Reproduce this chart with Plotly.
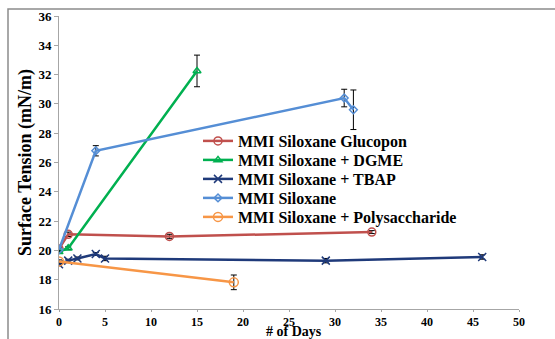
import plotly.graph_objects as go

# ---- data ----
glucopon_days = [0, 1, 12, 34]
glucopon_vals = [20.1, 21.1, 20.95, 21.25]
glucopon_err = [0.1, 0.15, 0.15, 0.1]

dgme_days = [0, 1, 15]
dgme_vals = [19.9, 20.15, 32.25]
dgme_err = [0.1, 0.1, 1.08]

tbap_days = [0, 1, 2, 4, 5, 29, 46]
tbap_vals = [19.05, 19.3, 19.45, 19.75, 19.45, 19.3, 19.55]
tbap_err = [0.1, 0.1, 0.1, 0.1, 0.15, 0.15, 0.15]

siloxane_days = [0, 4, 31, 32]
siloxane_vals = [20.05, 26.8, 30.4, 29.6]
siloxane_err = [0.1, 0.35, 0.6, 1.35]

poly_days = [0, 19]
poly_vals = [19.25, 17.82]
poly_err = [0.1, 0.5]

series = [
    ("MMI Siloxane Glucopon", glucopon_days, glucopon_vals, glucopon_err, "#C0504D", "circle-open", 8),
    ("MMI Siloxane + DGME", dgme_days, dgme_vals, dgme_err, "#00B050", "triangle-up-open", 7),
    ("MMI Siloxane + TBAP", tbap_days, tbap_vals, tbap_err, "#1F3A7A", "x-thin-open", 8),
    ("MMI Siloxane", siloxane_days, siloxane_vals, siloxane_err, "#558ED5", "diamond-open", 6),
    ("MMI Siloxane + Polysaccharide", poly_days, poly_vals, poly_err, "#F79646", "circle-open", 9),
]

W, H = 555, 339
L, R, T, B = 59, 36, 16, 30
pw, ph = W - L - R, H - T - B

def px_to_paper_x(px):
    return (px - L) / pw

def px_to_paper_y(py):
    return (H - B - py) / ph

fig = go.Figure()
legend_rows = [141, 160, 179, 198, 217]
font_family = "Liberation Serif, Times New Roman, serif"

layout_legends = {}
for i, (name, xs, ys, es, color, sym, msize) in enumerate(series):
    lg = "legend" if i == 0 else f"legend{i+1}"
    fig.add_trace(go.Scatter(
        x=xs, y=ys, name=name, mode="lines+markers",
        line=dict(color=color, width=2.5),
        marker=dict(symbol=sym, size=msize, color=color, line=dict(color=color, width=1.5)),
        error_y=dict(type="data", array=es, visible=True, color="#000000", thickness=1, width=3),
        legend=lg,
    ))
    layout_legends[lg] = dict(
        x=px_to_paper_x(198), y=px_to_paper_y(legend_rows[i]),
        xanchor="left", yanchor="middle",
        bgcolor="rgba(0,0,0,0)", borderwidth=0,
        font=dict(family=font_family, size=16, color="#000000", weight="bold"),
        itemwidth=30,
    )

fig.update_layout(
    width=W, height=H,
    margin=dict(l=L, r=R, t=T, b=B),
    paper_bgcolor="white", plot_bgcolor="white",
    showlegend=True,
    **layout_legends,
)

fig.update_xaxes(
    range=[0, 50], tickmode="array", tickvals=list(range(0, 51, 5)),
    showgrid=False, zeroline=False, showline=True, linecolor="#A6A6A6", linewidth=1,
    ticks="outside", ticklen=2, tickcolor="#A6A6A6", automargin=False,
    tickfont=dict(family=font_family, size=12, color="#000000", weight="bold"),
)
fig.update_yaxes(
    range=[16, 36], tickmode="array", tickvals=list(range(16, 37, 2)),
    showgrid=False, zeroline=False, showline=True, linecolor="#A6A6A6", linewidth=1,
    ticks="outside", ticklen=4, tickcolor="#A6A6A6", automargin=False,
    tickfont=dict(family=font_family, size=13, color="#000000", weight="bold"),
    title=dict(text="Surface Tension (mN/m)", font=dict(family=font_family, size=18, color="#000000", weight="bold"), standoff=2),
)

# x-axis title, placed low like the reference (just under the tick labels)
fig.add_annotation(text="# of Days", xref="paper", yref="paper",
                   x=px_to_paper_x(294), y=px_to_paper_y(340),
                   xanchor="center", yanchor="bottom", showarrow=False, borderpad=0,
                   font=dict(family=font_family, size=14, color="#000000", weight="bold"))

# outer chart border
fig.add_shape(type="rect", xref="paper", yref="paper",
              x0=px_to_paper_x(8), x1=px_to_paper_x(560),
              y0=px_to_paper_y(345), y1=px_to_paper_y(9),
              line=dict(color="#8C8C8C", width=1.5), layer="below")

fig.write_html("out.html")
